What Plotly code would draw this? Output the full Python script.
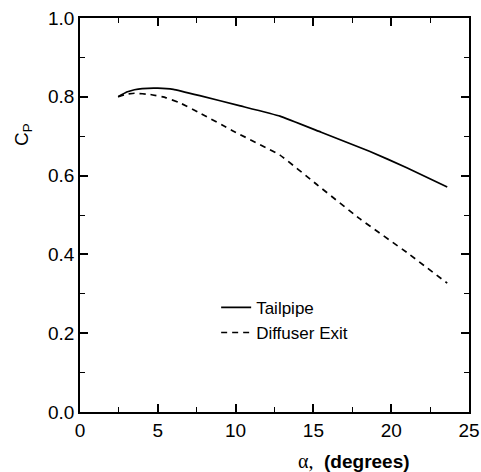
import plotly.graph_objects as go

# Data
tail_x = [2.45, 3.0, 3.5, 4.0, 5.0, 6.0, 7.7, 10.3, 12.85, 15.5, 18.6, 21.0, 23.6]
tail_y = [0.800, 0.812, 0.818, 0.821, 0.822, 0.819, 0.803, 0.777, 0.751, 0.710, 0.662, 0.620, 0.571]

diff_x = [2.45, 3.0, 3.5, 4.5, 5.5, 6.4, 7.7, 9.8, 12.85, 15.2, 18.0, 21.0, 23.6]
diff_y = [0.800, 0.807, 0.809, 0.806, 0.798, 0.785, 0.759, 0.714, 0.652, 0.578, 0.490, 0.405, 0.327]

series_names = ["Tailpipe", "Diffuser Exit"]

x_ticks = [0, 5, 10, 15, 20, 25]
y_ticks = [0.0, 0.2, 0.4, 0.6, 0.8, 1.0]
y_tick_labels = ["0.0", "0.2", "0.4", "0.6", "0.8", "1.0"]

font_family = "Liberation Sans, Arial, sans-serif"

fig = go.Figure()
fig.add_trace(go.Scatter(x=tail_x, y=tail_y, mode="lines", name=series_names[0],
                         line=dict(color="black", width=1.7, shape="spline", smoothing=0.3)))
fig.add_trace(go.Scatter(x=diff_x, y=diff_y, mode="lines", name=series_names[1],
                         line=dict(color="black", width=1.7, dash="6px,5px", shape="spline", smoothing=0.3)))

axis_common = dict(
    showgrid=False, zeroline=False, showline=True, linecolor="black", linewidth=1.5,
    mirror="ticks", ticks="inside", ticklen=8, tickwidth=1.5, tickcolor="black",
    tickfont=dict(family=font_family, size=19, color="black"),
    automargin=False,
)

fig.update_xaxes(range=[0, 25], tickvals=x_ticks, ticktext=[str(v) for v in x_ticks],
                 minor=dict(ticks="inside", ticklen=5, tickwidth=1.2, tickcolor="black", dtick=2.5),
                 **axis_common)
fig.update_yaxes(range=[0, 1.0], tickvals=y_ticks, ticktext=y_tick_labels,
                 minor=dict(ticks="inside", ticklen=5, tickwidth=1.2, tickcolor="black", dtick=0.1),
                 **axis_common)

fig.add_annotation(text="C<sub>P</sub>", xref="paper", yref="paper", x=-0.147, y=0.705,
                   showarrow=False, textangle=-90, xanchor="center", yanchor="middle",
                   font=dict(family=font_family, size=19, color="black"))
fig.add_annotation(text="<span style='font-family:Liberation Serif, serif;font-size:20px'>α,</span>  <b>(degrees)</b>",
                   xref="paper", yref="paper", x=0.704, y=-0.125,
                   xanchor="center", yanchor="middle",
                   showarrow=False,
                   font=dict(family=font_family, size=19, color="black"))

fig.update_layout(
    width=481, height=472,
    margin=dict(l=80, r=12, t=18, b=60),
    paper_bgcolor="white", plot_bgcolor="white",
    showlegend=True,
    legend=dict(x=0.35, y=0.31, xanchor="left", yanchor="top",
                bgcolor="rgba(0,0,0,0)", borderwidth=0,
                font=dict(family=font_family, size=17, color="black"),
                tracegroupgap=0, itemwidth=30),
)

fig.write_html("out.html", config={"displayModeBar": False},
               post_script="document.body.style.margin='0';document.body.style.overflow='hidden';")
